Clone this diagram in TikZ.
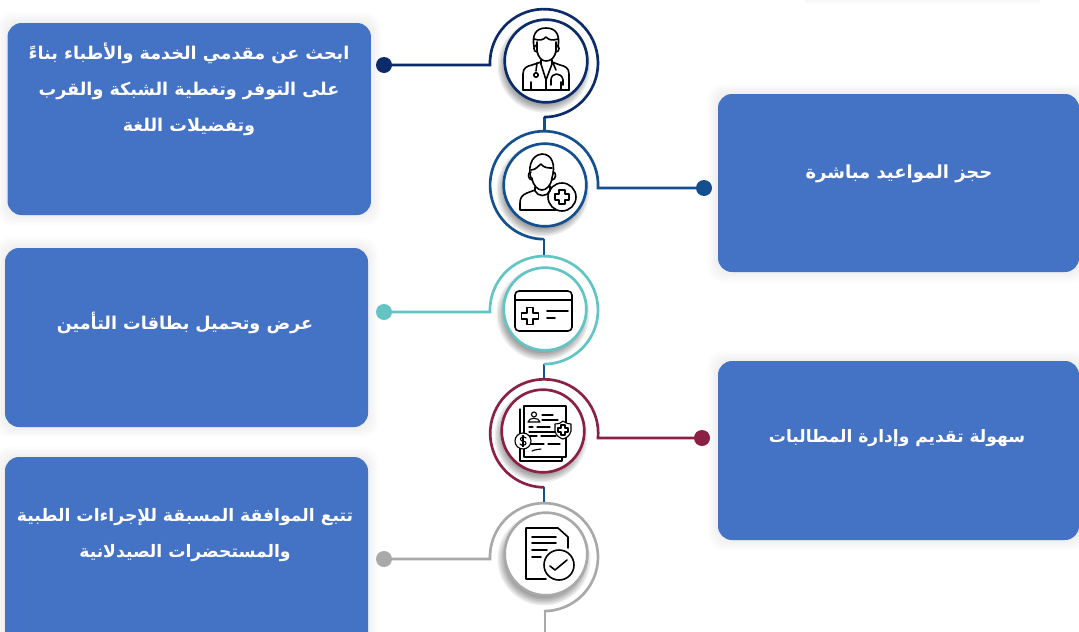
\documentclass[tikz,border=0pt]{standalone}
\usepackage{fontspec}
\newfontfamily\arabicfont[Script=Arabic]{DejaVu Sans}
\TeXXeTstate=1
\newcommand\arln[1]{\beginR #1\endR}
\definecolor{boxblue}{HTML}{4472C4}
\definecolor{cnavy}{HTML}{0B2B6B}
\definecolor{cblue}{HTML}{14508F}
\definecolor{cteal}{HTML}{62C4C4}
\definecolor{cwine}{HTML}{8B2045}
\definecolor{cgray}{HTML}{A9A9A9}
\newcommand\softrect[4]{\foreach \d in {2,4,6,8,10}{\fill[black,opacity=.011,rounded corners=11pt] ({#1-\d},{#2-\d}) rectangle ({#3+\d},{#4+\d});}}
\newcommand\softdisc[3]{\foreach \d in {0,1.5,...,7.5}{\fill[black,opacity=.07] ({#1-2},{#2+5}) circle[radius={#3-2+\d}];}}
\tikzset{
  bluebox/.style={fill=boxblue,rounded corners=10.5pt,inner sep=0pt,draw=none},
  label/.style={text=white,inner sep=0pt,align=center},
  ring/.style={line width=2pt,fill=white,circle,minimum size=62pt,inner sep=0pt},
  wire/.style={line width=2pt,line cap=butt},
  enddot/.style={circle,minimum size=12pt,inner sep=0pt},
  icon/.style={line width=1.2pt,black,line cap=round,line join=round},
  thin icon/.style={line width=.85pt,black,line cap=round,line join=round}
}
\newcommand\lfont[1]{\arabicfont\bfseries\fontsize{#1}{27}\selectfont}
\begin{document}
\begin{tikzpicture}[x=.75pt,y=-.75pt]
\useasboundingbox (0,0) rectangle (1079,632);
\fill[white] (0,0) rectangle (1079,632);
% faint shadow at the top edge
\foreach \d in {1,2,3,4}{\fill[black,opacity=.006] (805,0) rectangle (1040,\d);}
% box shadows
\softrect{7.5}{23}{371}{215}
\softrect{718}{94}{1079}{272}
\softrect{5}{248}{368}{427}
\softrect{718}{361}{1079}{540}
\softrect{5}{457}{368}{660}
% boxes
\node[bluebox,minimum width=272.6pt,minimum height=144pt] (b1) at (189.25,119) {};
\node[bluebox,minimum width=270.75pt,minimum height=133.5pt] (b2) at (898.5,183) {};
\node[bluebox,minimum width=272.25pt,minimum height=134.25pt] (b3) at (186.5,337.5) {};
\node[bluebox,minimum width=270.75pt,minimum height=134.25pt] (b4) at (898.5,450.5) {};
\node[bluebox,minimum width=272.25pt,minimum height=152.25pt] (b5) at (186.5,558.5) {};
% labels
\node[label,font=\lfont{13.2}] (t1) at (189,89) {\arln{ابحث عن مقدمي الخدمة والأطباء بناءً}\\\arln{على التوفر وتغطية الشبكة والقرب}\\\arln{وتفضيلات اللغة}};
\node[label,font=\lfont{13.5}] (t2) at (899,174) {\arln{حجز المواعيد مباشرة}};
\node[label,font=\lfont{13.2}] (t3) at (185,323) {\arln{عرض وتحميل بطاقات التأمين}};
\node[label,font=\lfont{12.8}] (t4) at (897,438) {\arln{سهولة تقديم وإدارة المطالبات}};
\node[label,font=\lfont{12.9}] (t5) at (185,535) {\arln{تتبع الموافقة المسبقة للإجراءات الطبية}\\\arln{والمستحضرات الصيدلانية}};
% end dots
\node[enddot,fill=cnavy] (d1) at (384,65) {};
\node[enddot,fill=cblue] (d2) at (704,188) {};
\node[enddot,fill=cteal] (d3) at (384,312) {};
\node[enddot,fill=cwine] (d4) at (702,438) {};
\node[enddot,fill=cgray] (d5) at (384,559) {};
% spiral arcs and connectors
\coordinate (e1) at (544.5,117);
\coordinate (e2) at (544,239);
\coordinate (e3) at (544,364);
\coordinate (e4) at (544,487);
\coordinate (e5) at (545,611);
\coordinate (s2) at (544.5,131);
\coordinate (s3) at (544,256);
\coordinate (s4) at (544,379);
\coordinate (s5) at (544,503);
\coordinate (bottom) at (545,632);
\draw[wire,cblue] (e1) -- (s2);
\draw[wire,cblue] (e2) -- (s3);
\draw[wire,cblue] (e3) -- (s4);
\draw[wire,cblue] (e4) -- (s5);
\draw[wire,cgray] (e5) -- (bottom);
\draw[wire,cnavy,line join=miter] (d1.center) -- (490,65) arc[start angle=178,end angle=450,radius=54];
\draw[wire,cblue] (d2.center) -- (598,188) arc[start angle=3,end angle=-270,radius=54];
\draw[wire,cteal] (d3.center) -- (490,312) arc[start angle=178,end angle=450,radius=54];
\draw[wire,cwine] (d4.center) -- (598,438) arc[start angle=5,end angle=-270,radius=54];
\draw[wire,cgray] (d5.center) -- (490,559) arc[start angle=178,end angle=450,radius=54];
% inner circles
\softdisc{546}{61}{41}
\softdisc{545}{185}{41}
\softdisc{545}{309}{41}
\softdisc{543}{431}{41}
\softdisc{546}{554}{41}
\node[ring,draw=cnavy] (c1) at (546,61) {};
\node[ring,draw=cblue] (c2) at (545,185) {};
\node[ring,draw=cteal] (c3) at (545,309) {};
\node[ring,draw=cwine] (c4) at (543,431) {};
\node[ring,draw=cgray] (c5) at (546,554) {};
% icon 1: doctor
\begin{scope}[icon]
\draw (534,47) .. controls (532,36) and (535,28) .. (546,28) .. controls (557,28) and (560,36) .. (558,47);
\draw (534,39) .. controls (540,41) and (543,40) .. (546,37) .. controls (549,40) and (552,41) .. (558,39);
\draw (537,42) -- (537,50) .. controls (538,58) and (542,61) .. (546,61) .. controls (551,61) and (555,58) .. (556,50) -- (556,42);
\draw (537,45) .. controls (533,45) and (533,52) .. (537,52);
\draw (556,45) .. controls (560,45) and (560,52) .. (556,52);
\draw (541,60) -- (541,64) -- (546,80) -- (552,64) -- (552,60);
\draw (523,90) -- (523,74) .. controls (523,68) and (527,66) .. (532,65) -- (541,62);
\draw (569,90) -- (569,74) .. controls (569,68) and (565,66) .. (560,65) -- (552,62);
\draw (523,90) -- (569,90);
\draw (546,80) -- (546,90);
\draw (531,82) -- (531,90);
\draw (561,82) -- (561,90);
\draw (537,63) -- (536,71);
\draw (536,75) circle[radius=2.2];
\draw (553,63) -- (556,70);
\draw (551,85) -- (551,80) .. controls (551,72) and (562,72) .. (563,80) -- (563,85);
\end{scope}
% icon 2: person with plus
\begin{scope}[icon]
\draw (531,178) .. controls (528,170) and (530,155) .. (542,154) .. controls (552,154) and (556,165) .. (552,178);
\draw (531,170) .. controls (536,170) and (539,165) .. (541,164) .. controls (544,168) and (548,168) .. (552,168);
\draw (531,172) .. controls (527,172) and (528,180) .. (532,180);
\draw (553,172) .. controls (557,172) and (556,180) .. (552,180);
\draw (532,178) .. controls (533,186) and (538,190) .. (542,190) .. controls (546,190) and (551,186) .. (552,178);
\draw (535,187) -- (535,191) .. controls (538,197) and (547,197) .. (550,191) -- (550,186);
\draw (535,190) -- (527,193) .. controls (522,195) and (520,198) .. (520,203) -- (520,210) -- (556,210);
\draw (562,197) circle[radius=14];
\draw (559,190) -- (565,190) -- (565,194) -- (569,194) -- (569,200) -- (565,200) -- (565,204) -- (559,204) -- (559,200) -- (555,200) -- (555,194) -- (559,194) -- cycle;
\end{scope}
% icon 3: insurance card
\begin{scope}[icon]
\draw[rounded corners=3pt] (515,291) rectangle (572,331);
\draw (515,300) -- (572,300);
\draw (527,307.5) -- (533,307.5) -- (533,313) -- (538.5,313) -- (538.5,319) -- (533,319) -- (533,324.5) -- (527,324.5) -- (527,319) -- (521.5,319) -- (521.5,313) -- (527,313) -- cycle;
\draw (547,311) -- (568,311);
\draw (547,318) -- (555,318);
\end{scope}
% icon 4: claim documents
\begin{scope}[thin icon]
\draw (520,409) -- (520,461) -- (562,461) -- (562,457);
\draw[fill=white] (524,406) rectangle (566,457);
\draw (534,414.5) circle[radius=2.5];
\draw (528,422) .. controls (529,417) and (539,417) .. (540,422) -- cycle;
\draw (542,415) -- (553,415);
\draw (542,420) -- (558,420);
\draw (529,427) -- (533,427) (537,427) -- (550,427);
\draw (529,432) -- (556,432);
\draw (529,436) -- (537,436) (541,436) -- (556,436);
\draw (531,444) -- (544,444) (548,444) -- (560,444);
\draw (532,451) .. controls (536,449) and (538,450) .. (541,449);
\draw[fill=white] (563,421) .. controls (567,424) and (570,424) .. (571,424) -- (571,431) .. controls (570,436) and (566,438) .. (563,439) .. controls (560,438) and (556,436) .. (555,431) -- (555,424) .. controls (557,424) and (560,424) .. (563,421) -- cycle;
\draw (561,425) -- (565,425) -- (565,428) -- (568,428) -- (568,432) -- (565,432) -- (565,435) -- (561,435) -- (561,432) -- (558,432) -- (558,428) -- (561,428) -- cycle;
\draw[fill=white] (523,441) circle[radius=8];
\draw (526,438) .. controls (524,436) and (520,437) .. (520.5,439.5) .. controls (521,442) and (526,440.5) .. (526,443) .. controls (526,445.5) and (521.5,446) .. (520,444);
\draw (523,435.5) -- (523,446.5);
\end{scope}
% icon 5: checked document
\begin{scope}[icon]
\draw (546,579) -- (526,579) -- (526,528) -- (558,528) -- (568,537) -- (568,548);
\draw (532,537) -- (556,537);
\draw (532,543) -- (556,543);
\draw (532,550) -- (547,550);
\draw (532,557) -- (541,557);
\draw (559,565) circle[radius=15];
\draw (550,566) -- (555,570) -- (567,560);
\end{scope}
\end{tikzpicture}
\end{document}
